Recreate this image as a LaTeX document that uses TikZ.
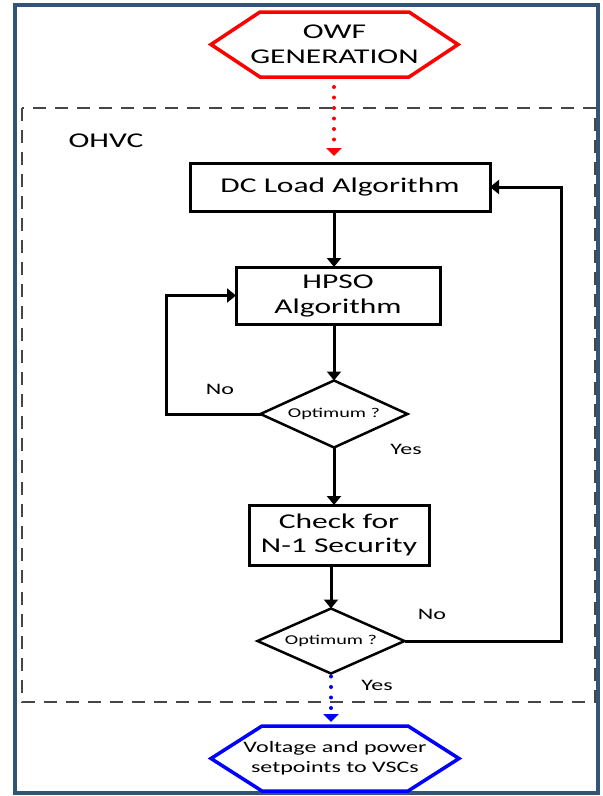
\documentclass[tikz,border=0pt]{standalone}
\usepackage{fontspec}
\setmainfont{Carlito}[FakeStretch=1.5]
\usetikzlibrary{arrows.meta,shapes.geometric,calc}
\definecolor{framec}{RGB}{52,84,116}
\definecolor{hexred}{RGB}{255,0,0}
\definecolor{hexblue}{RGB}{0,0,255}
\definecolor{dashc}{RGB}{70,70,70}
\begin{document}
\begin{tikzpicture}[x=1pt,y=-1pt,
  big/.style={font=\fontsize{21}{25}\selectfont},
  mid/.style={font=\fontsize{16}{20}\selectfont},
  stepbox/.style={draw, line width=3pt, inner sep=0pt, outer sep=0pt, align=center, big},
  hexnode/.style={inner sep=0pt, outer sep=0pt, align=center},
  dec/.style={diamond, draw, line width=2.5pt, aspect=2.2, inner sep=1pt, outer sep=0pt,
              font=\fontsize{13.5}{15}\selectfont},
  flow/.style={line width=3pt, -{Triangle[width=14pt,length=9pt]}},
  loopline/.style={line width=3pt, line join=miter, -{Triangle[width=14pt,length=9pt]}},
  dotflow/.style={line width=4pt, line cap=round, dash pattern=on 0pt off 10.5pt,
                  -{Triangle[width=15pt,length=8pt]}},
  lbl/.style={font=\fontsize{16}{18}\selectfont}
]
\useasboundingbox (0,0) rectangle (603,796);
\fill[white] (0,0) rectangle (603,796);
% outer frame
\draw[framec, line width=4pt] (15,5) rectangle (598,793);
% OHVC dashed region
\draw[dashc, line width=1.5pt, dash pattern=on 13pt off 9pt] (22,108) rectangle (595,702);
\node[big] (ohvc) at (106,141) {OHVC};

% top hexagon
\node[hexnode, big, minimum width=247pt, minimum height=65pt] (owf) at (334.5,44.5) {OWF\\GENERATION};
\draw[hexred, line width=3.5pt, line join=miter]
  (owf.west) -- ($(owf.north west)+(49,0)$) -- ($(owf.north east)+(-49,0)$) -- (owf.east)
  -- ($(owf.south east)+(-49,0)$) -- ($(owf.south west)+(49,0)$) -- cycle;

% steps
\node[stepbox, minimum width=300pt, minimum height=48pt] (dc) at (340,187) {DC Load Algorithm};
\node[stepbox, minimum width=204pt, minimum height=57pt] (hpso) at (338,295.5) {HPSO\\Algorithm};
\node[dec, minimum width=147pt, minimum height=67pt] (d1) at (334,414) {Optimum ?};
\node[stepbox, minimum width=180pt, minimum height=60pt, font=\fontsize{21}{24}\selectfont] (chk) at (339,535) {Check for\\N-1 Security};
\node[dec, minimum width=147pt, minimum height=65pt] (d2) at (331,641) {Optimum ?};

% bottom hexagon
\node[hexnode, mid, minimum width=248pt, minimum height=65pt] (out) at (335,758.5) {Voltage and power\\setpoints to VSCs};
\draw[hexblue, line width=3.5pt, line join=miter]
  (out.west) -- ($(out.north west)+(51,0)$) -- ($(out.north east)+(-51,0)$) -- (out.east)
  -- ($(out.south east)+(-51,0)$) -- ($(out.south west)+(51,0)$) -- cycle;

% connectors
\draw[dotflow, hexred, shorten <=10pt, shorten >=7pt] (owf.south -| d1) -- (dc.north -| d1);
\draw[flow] (dc.south -| d1) -- (hpso.north -| d1);
\draw[flow] (hpso.south -| d1) -- (d1.north);
\draw[flow] (d1.south) -- (chk.north -| d1);
\draw[flow] (chk.south -| d2) -- (d2.north);
\draw[dotflow, hexblue, shorten <=3pt, shorten >=4pt] (d2.south) -- (out.north -| d2);

\coordinate (l1) at (166,414);
\coordinate (r2) at (561,641);
\draw[loopline] (d1.west) -- (l1) |- (hpso.west);
\draw[loopline] (d2.east) -- (r2) |- (dc.east);

% labels
\node[lbl] (no1) at (220,389) {No};
\node[lbl] (yes1) at (406,449) {Yes};
\node[lbl] (no2) at (432,614) {No};
\node[lbl] (yes2) at (377,685) {Yes};
\end{tikzpicture}
\end{document}
